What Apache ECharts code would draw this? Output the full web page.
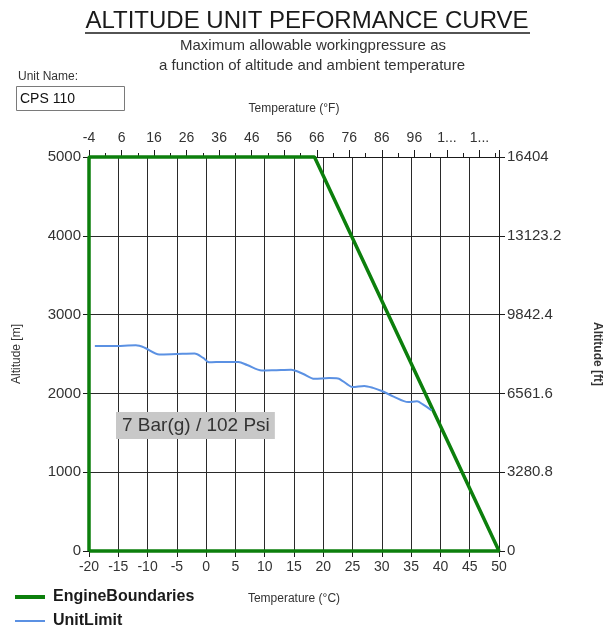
<!DOCTYPE html>
<html>
<head>
<meta charset="utf-8">
<title>Altitude unit performance curve</title>
<script src="https://cdn.jsdelivr.net/npm/echarts@6/dist/echarts.min.js"></script>
<style>
  html, body { margin: 0; padding: 0; background: #fff; }
  #chart { width: 603px; height: 629px; }
</style>
</head>
<body>
<div id="chart"></div>
<script>
// engine boundary polygon (°C, m)
const engineTemp = [-20, -20, 18.5, 50, -20];
const engineAlt = [0, 5000, 5000, 0, 0];

// unit limit curve (°C, m)
const unitTemp = [-19, -16, -12, -10.5, -8, -5, -2, -0.5, 0.5, 3, 5.5, 7, 9.5, 12, 14.5, 16.5, 18.5, 21, 22.5, 24, 25, 27, 28.5, 30, 32, 34.5, 36, 37, 38.5];
const unitAlt = [2600, 2600, 2610, 2580, 2495, 2500, 2505, 2450, 2395, 2400, 2398, 2360, 2290, 2295, 2300, 2250, 2185, 2195, 2190, 2120, 2080, 2095, 2070, 2030, 1960, 1890, 1900, 1860, 1785];

// tick labels
const fLabels = ['-4', '6', '16', '26', '36', '46', '56', '66', '76', '86', '96', '1...', '1...'];
const ftLabels = ['0', '3280.8', '6561.6', '9842.4', '13123.2', '16404'];

const FONT = '"Liberation Sans", Arial, sans-serif';

var chart = echarts.init(document.getElementById('chart'));

var engineData = engineTemp.map(function (t, i) { return [t, engineAlt[i]]; });
var unitData = unitTemp.map(function (t, i) { return [t, unitAlt[i]]; });

var axisLineStyle = { color: '#1a1a1a', width: 1 };
var plain = function (v) { return String(v); };

var legendText = { fontFamily: FONT, fontWeight: 'bold', fontSize: 16, color: '#1a1a1a', padding: [0, 0, 0, 3] };

var option = {
  animation: false,
  textStyle: { fontFamily: FONT },
  grid: { left: 89, right: 104, top: 157, bottom: 78, outerBoundsMode: 'none', containLabel: false },
  legend: [
    {
      left: 15,
      top: 589,
      padding: 0,
      itemWidth: 30,
      itemHeight: 14,
      symbolKeepAspect: true,
      textStyle: legendText,
      data: [{ name: 'EngineBoundaries', icon: 'path://M0 0H30V4H0Z' }]
    },
    {
      left: 15,
      top: 613,
      padding: 0,
      itemWidth: 30,
      itemHeight: 14,
      symbolKeepAspect: true,
      textStyle: legendText,
      data: [{ name: 'UnitLimit', icon: 'path://M0 0H30V2H0Z' }]
    }
  ],
  xAxis: [
    {
      type: 'value',
      position: 'bottom',
      min: -20,
      max: 50,
      interval: 5,
      name: 'Temperature (°C)',
      nameLocation: 'middle',
      nameGap: 42,
      nameTextStyle: { fontSize: 12, color: '#333' },
      axisLine: { onZero: false, lineStyle: axisLineStyle },
      axisTick: { length: 6, lineStyle: axisLineStyle },
      axisLabel: { fontSize: 14, color: '#333', margin: 9, formatter: plain },
      splitLine: { show: true, lineStyle: { color: '#2a2a2a', width: 1 } }
    },
    {
      type: 'value',
      position: 'top',
      min: 0,
      max: 126,
      interval: 10,
      name: 'Temperature (°F)',
      nameLocation: 'middle',
      nameGap: 42,
      nameTextStyle: { fontSize: 12, color: '#333' },
      axisLine: { onZero: false, lineStyle: axisLineStyle },
      axisTick: { length: 7, lineStyle: axisLineStyle },
      minorTick: { show: true, splitNumber: 2, length: 4, lineStyle: axisLineStyle },
      axisLabel: {
        fontSize: 14,
        color: '#333',
        margin: 12,
        formatter: function (v, i) { return fLabels[i] !== undefined ? fLabels[i] : ''; }
      },
      splitLine: { show: false }
    }
  ],
  yAxis: [
    {
      type: 'value',
      position: 'left',
      min: 0,
      max: 5000,
      interval: 1000,
      name: 'Altitude [m]',
      nameLocation: 'middle',
      nameGap: 66,
      nameRotate: 90,
      nameTextStyle: { fontSize: 12, color: '#333' },
      axisLine: { show: true, onZero: false, lineStyle: axisLineStyle },
      axisTick: { show: true, length: 6, lineStyle: axisLineStyle },
      axisLabel: { fontSize: 15, color: '#333', margin: 8, formatter: plain },
      splitLine: { show: true, lineStyle: { color: '#2a2a2a', width: 1 } }
    },
    {
      type: 'value',
      position: 'right',
      min: 0,
      max: 5000,
      interval: 1000,
      name: 'Altitude [ft]',
      nameLocation: 'middle',
      nameGap: 92,
      nameRotate: -90,
      nameTextStyle: { fontSize: 12, color: '#333', fontWeight: 'bold' },
      axisLine: { show: true, onZero: false, lineStyle: axisLineStyle },
      axisTick: { show: true, length: 6, lineStyle: axisLineStyle },
      axisLabel: {
        fontSize: 15,
        color: '#333',
        margin: 8,
        formatter: function (v, i) { return ftLabels[i]; }
      },
      splitLine: { show: false }
    }
  ],
  series: [
    {
      name: 'EngineBoundaries',
      type: 'line',
      xAxisIndex: 0,
      yAxisIndex: 0,
      data: engineData,
      symbol: 'none',
      clip: false,
      z: 3,
      color: '#0c7f0c',
      lineStyle: { color: '#0c7f0c', width: 3.5 }
    },
    {
      name: 'UnitLimit',
      type: 'line',
      xAxisIndex: 0,
      yAxisIndex: 0,
      data: unitData,
      symbol: 'none',
      smooth: 0.3,
      z: 4,
      color: '#5b91e3',
      lineStyle: { color: '#5b91e3', width: 2 }
    }
  ],
  graphic: [
    {
      type: 'text',
      x: 307,
      y: 21,
      style: { text: 'ALTITUDE UNIT PEFORMANCE CURVE', font: '24px ' + FONT, fill: '#1a1a1a', align: 'center', verticalAlign: 'middle' }
    },
    {
      type: 'line',
      shape: { x1: 85, y1: 33, x2: 530, y2: 33 },
      style: { stroke: '#1a1a1a', lineWidth: 1.5 }
    },
    {
      type: 'text',
      x: 313,
      y: 46,
      style: { text: 'Maximum allowable workingpressure as', font: '15px ' + FONT, fill: '#333', align: 'center', verticalAlign: 'middle' }
    },
    {
      type: 'text',
      x: 312,
      y: 66,
      style: { text: 'a function of altitude and ambient temperature', font: '15px ' + FONT, fill: '#333', align: 'center', verticalAlign: 'middle' }
    },
    {
      type: 'text',
      x: 18,
      y: 77,
      style: { text: 'Unit Name:', font: '12px ' + FONT, fill: '#333', verticalAlign: 'middle' }
    },
    {
      type: 'rect',
      shape: { x: 16.5, y: 86.5, width: 108, height: 24 },
      style: { fill: '#fff', stroke: '#7a7a7a', lineWidth: 1 }
    },
    {
      type: 'text',
      x: 20,
      y: 99,
      style: { text: 'CPS 110', font: '14px ' + FONT, fill: '#111', verticalAlign: 'middle' }
    },
    {
      type: 'text',
      x: 116,
      y: 412,
      z: 10,
      style: {
        text: '7 Bar(g) / 102 Psi',
        font: '19px ' + FONT,
        fill: '#333',
        backgroundColor: '#c8c8c8',
        padding: [4, 5, 4, 6]
      }
    }
  ]
};

chart.setOption(option);
</script>
</body>
</html>
